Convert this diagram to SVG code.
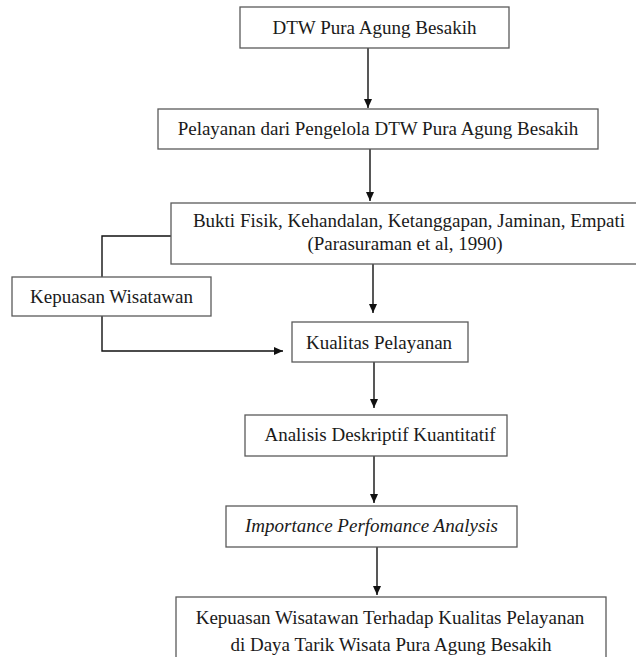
<svg xmlns="http://www.w3.org/2000/svg" width="636" height="657" viewBox="0 0 636 657">
<style>
.box{fill:#fff;stroke:#5a5a5a;stroke-width:1.3}
.t{font-family:"Liberation Serif","Times New Roman",serif;font-size:19px;fill:#1a1a1a;text-anchor:middle}
.i{font-style:italic}
.c{fill:none;stroke:#111;stroke-width:1.4}
</style>
<defs>
<marker id="ah" markerWidth="10" markerHeight="10" refX="9" refY="5" orient="auto" markerUnits="userSpaceOnUse">
<path d="M0,1 L9,5 L0,9 Z" fill="#111"/>
</marker>
</defs>
<rect width="636" height="657" fill="#fff"/>
<g id="connectors">
<line class="c" x1="368" y1="48" x2="368" y2="108" marker-end="url(#ah)"/>
<line class="c" x1="370" y1="149" x2="370" y2="201" marker-end="url(#ah)"/>
<polyline class="c" points="171,236 102,236 102,277"/>
<line class="c" x1="373" y1="264" x2="373" y2="313" marker-end="url(#ah)"/>
<polyline class="c" points="102,316 102,351 283,351" marker-end="url(#ah)"/>
<line class="c" x1="374" y1="362" x2="374" y2="408" marker-end="url(#ah)"/>
<line class="c" x1="374" y1="456" x2="374" y2="503" marker-end="url(#ah)"/>
<line class="c" x1="377" y1="547" x2="377" y2="595" marker-end="url(#ah)"/>
</g>
<g id="n1"><rect class="box" x="240" y="7" width="269" height="41"/><text class="t" x="374.5" y="34">DTW Pura Agung Besakih</text></g>
<g id="n2"><rect class="box" x="158" y="109" width="440" height="40"/><text class="t" x="378" y="135">Pelayanan dari Pengelola DTW Pura Agung Besakih</text></g>
<g id="n3"><rect class="box" x="171" y="203" width="480" height="61"/><text class="t" x="409" y="227">Bukti Fisik, Kehandalan, Ketanggapan, Jaminan, Empati</text><text class="t" x="405" y="250">(Parasuraman et al, 1990)</text></g>
<g id="n4"><rect class="box" x="12" y="277" width="199" height="39"/><text class="t" x="111.5" y="303">Kepuasan Wisatawan</text></g>
<g id="n5"><rect class="box" x="292" y="322" width="176" height="40"/><text class="t" x="379" y="349">Kualitas Pelayanan</text></g>
<g id="n6"><rect class="box" x="245" y="415" width="262" height="41"/><text class="t" x="380" y="441">Analisis Deskriptif Kuantitatif</text></g>
<g id="n7"><rect class="box" x="226" y="506" width="291" height="41"/><text class="t i" x="371.5" y="532">Importance Perfomance Analysis</text></g>
<g id="n8"><rect class="box" x="176" y="597" width="430" height="70"/><text class="t" x="390" y="624">Kepuasan Wisatawan Terhadap Kualitas Pelayanan</text><text class="t" x="391" y="651">di Daya Tarik Wisata Pura Agung Besakih</text></g>
</svg>
